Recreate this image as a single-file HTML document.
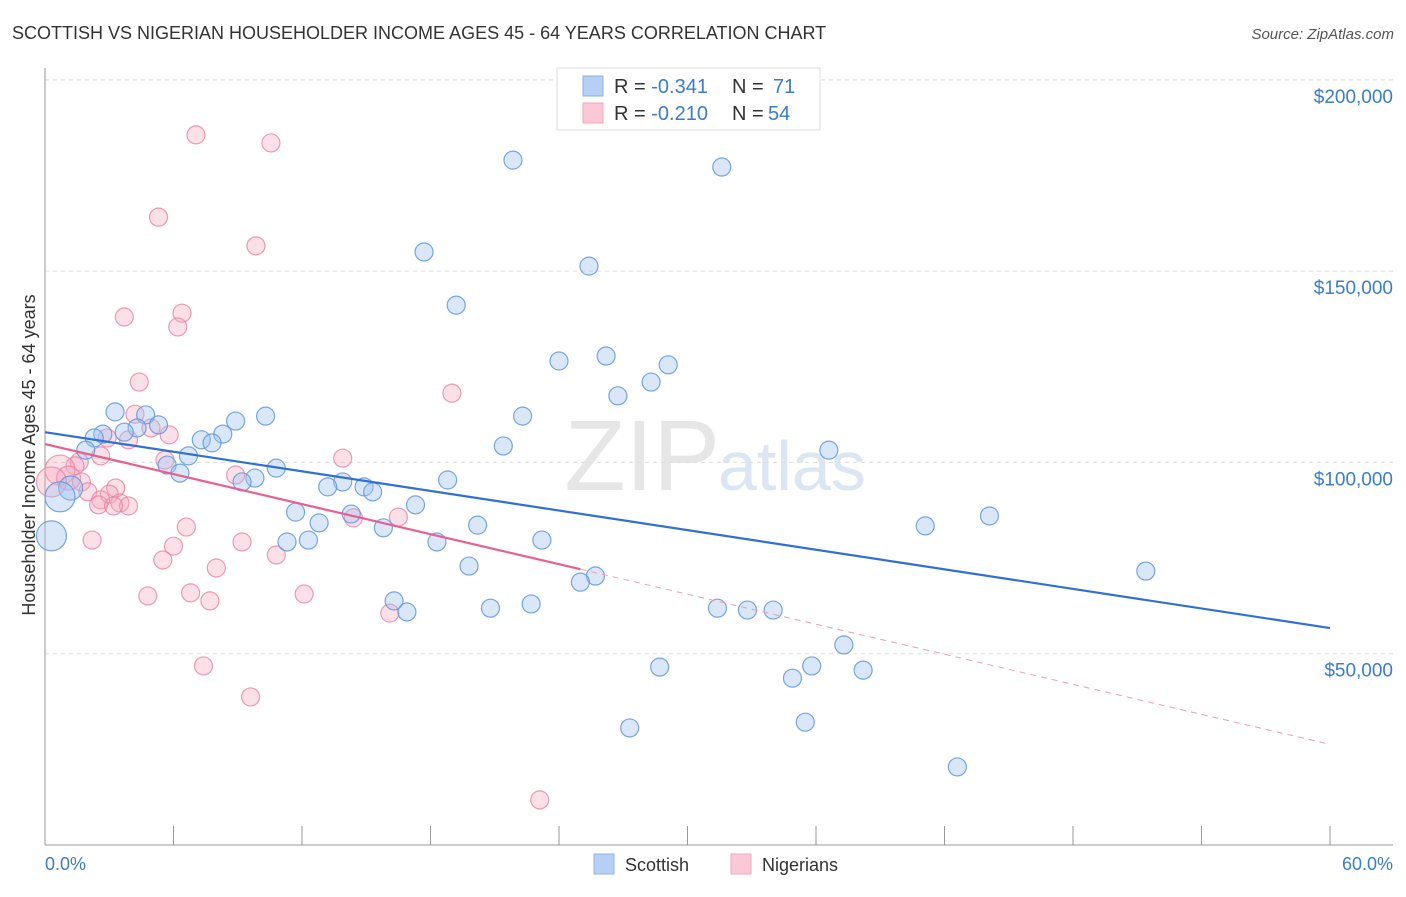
<!DOCTYPE html>
<html><head><meta charset="utf-8"><style>
body{margin:0;background:#fff;font-family:"Liberation Sans",sans-serif;}
svg text{font-family:"Liberation Sans",sans-serif;}
</style></head><body>
<svg id="chart" width="1406" height="892">
<text x="12" y="39" font-size="18" fill="#333">SCOTTISH VS NIGERIAN HOUSEHOLDER INCOME AGES 45 - 64 YEARS CORRELATION CHART</text>
<text x="1394" y="39" font-size="15" fill="#555" font-style="italic" text-anchor="end">Source: ZipAtlas.com</text>
<text x="720" y="490" font-size="100" fill="#e6e6e6" text-anchor="end" font-family="Liberation Serif">ZIP</text>
<text x="718" y="490" font-size="70" fill="#dbe6f4">atlas</text>
<g id="grid"></g><g id="axes"></g><g id="pts"></g><g id="lines"></g>
<text x="35" y="455" font-size="18" fill="#333" text-anchor="middle" transform="rotate(-90 35 455)">Householder Income Ages 45 - 64 years</text>
<text x="45" y="870" font-size="18" fill="#3a7bd5">0.0%</text>
<text x="1393" y="870" font-size="18" fill="#3a7bd5" text-anchor="end">60.0%</text>
<g>
<rect x="557" y="68" width="263" height="62" fill="#fff" stroke="#ddd"/>
<rect x="583" y="76" width="20" height="20" fill="#b5cff5" stroke="#8fb2e8"/>
<rect x="583" y="103" width="20" height="20" fill="#fbc8d7" stroke="#f0a6be"/>
<text x="614" y="93" font-size="20" fill="#333">R = <tspan fill="#3a7bd5">-0.341</tspan><tspan x="732">N = </tspan><tspan x="773" fill="#3a7bd5">71</tspan></text>
<text x="614" y="120" font-size="20" fill="#333">R = <tspan fill="#3a7bd5">-0.210</tspan><tspan x="732">N = </tspan><tspan x="768" fill="#3a7bd5">54</tspan></text>
</g>
<g><rect x="594" y="854" width="20" height="20" fill="#b5cff5" stroke="#8fb2e8"/><text x="625" y="871" font-size="18" fill="#333">Scottish</text></g>
<g><rect x="731" y="854" width="20" height="20" fill="#fbc8d7" stroke="#f0a6be"/><text x="762" y="871" font-size="18" fill="#333">Nigerians</text></g>
</svg>
<script>
const yTicks=[50000,100000,150000,200000];
const yTickLabels=["$50,000","$100,000","$150,000","$200,000"];
const scottishX=[21.85,31.6,17.7,25.4,19.2,24.0,26.2,29.1,28.3,26.75,3.27,4.7,10.3,22.3,5.3,8.9,4.3,3.7,2.7,2.3,8.3,7.3,7.8,21.4,36.6,6.7,1.9,5.7,10.8,6.3,9.8,18.8,9.2,13.9,13.2,14.9,15.3,1.2,0.7,17.3,11.7,14.3,12.8,15.8,20.2,41.1,44.1,0.3,11.3,12.3,18.3,23.2,19.8,51.4,25.7,25.0,16.3,16.9,20.8,22.7,31.4,32.8,34.0,37.3,28.7,35.8,38.2,34.9,35.5,27.3,42.6];
const scottishY=[179.0,177.2,155.0,151.3,141.1,126.5,127.8,125.5,121.0,117.4,113.2,112.4,112.1,112.1,109.8,110.8,109.0,107.9,107.4,106.4,107.4,105.9,105.1,104.3,103.2,101.7,103.2,99.3,98.5,97.2,95.9,95.4,94.9,94.9,93.6,93.6,92.3,93.3,91.0,88.9,87.0,86.5,84.2,82.9,83.6,83.4,86.0,80.8,79.2,79.7,79.2,79.7,72.9,71.6,70.3,68.7,63.8,60.9,61.9,63.0,61.9,61.4,61.4,52.3,46.5,46.8,45.7,43.6,32.1,30.6,20.4];
const nigerianX=[7.05,10.55,5.3,9.85,3.7,6.4,6.2,4.4,19.0,4.2,4.95,5.8,2.9,3.9,13.9,5.6,2.6,1.6,1.4,8.9,0.7,1.1,0.3,1.7,3.3,2.0,3.0,2.6,3.5,2.5,3.9,3.2,16.5,14.4,6.6,2.2,9.2,6.0,10.8,5.5,8.0,6.8,12.1,4.8,7.7,16.1,7.4,9.6,23.1];
const nigerianY=[185.6,183.5,164.1,156.6,138.0,139.0,135.4,121.0,118.1,112.6,109.0,107.2,106.4,105.9,101.1,100.6,101.7,100.1,99.1,96.7,98.0,95.9,94.9,94.9,93.3,92.3,91.7,90.2,89.4,88.9,88.6,88.6,85.7,85.5,83.1,79.7,79.2,78.1,75.8,74.5,72.4,65.9,65.6,65.1,63.8,60.6,46.8,38.7,11.8];
const scottishTrend=[107.9,56.7];
const nigerianTrend=[104.8,26.3];
const nigerianSolidEnd=25;
const NS="http://www.w3.org/2000/svg";
const sx=p=>45+p*1285/60, sy=k=>845-k*3.826;
function mk(t,a,p){const e=document.createElementNS(NS,t);for(const k in a)e.setAttribute(k,a[k]);p.appendChild(e);return e;}
const grid=document.getElementById('grid'),axes=document.getElementById('axes'),pts=document.getElementById('pts'),lines=document.getElementById('lines');
const topLine=mk('line',{x1:45,x2:1393,y1:80,y2:80,stroke:'#ddd','stroke-dasharray':'4,4'},grid);


yTicks.forEach((v,i)=>{
 const g=mk('line',{x1:45,x2:1393,y1:sy(v/1000),y2:sy(v/1000),stroke:'#ddd','stroke-dasharray':'4,4'},grid);
 
 
 const t=mk('text',{x:1393,y:sy(v/1000)+23,'font-size':19,fill:'#3a7bd5','text-anchor':'end'},grid);
 t.textContent=yTickLabels[i];
 
 
});
const ya=mk('line',{x1:45,x2:45,y1:68,y2:845,stroke:'#999'},axes);


const xa=mk('line',{x1:45,x2:1393,y1:845,y2:845,stroke:'#999'},axes);


for(let p=0;p<=60;p+=6){const t=mk('line',{x1:sx(p),x2:sx(p),y1:826,y2:845,stroke:'#999'},axes);
 
 }
function dots(X,Y,fill,stroke,name){X.forEach((x,i)=>{
 const r=(x<1.3)?(x<0.8?15:12):9;
 const c=mk('circle',{cx:sx(x),cy:sy(Y[i]),r:r,fill:fill,stroke:stroke,'stroke-width':1.2},pts);
 
 });}
dots(nigerianX,nigerianY,'rgba(245,165,190,0.35)','rgba(232,130,165,0.8)','nigerian-point');
dots(scottishX,scottishY,'rgba(160,195,240,0.4)','rgba(95,150,225,0.85)','scottish-point');
const bl=mk('line',{x1:sx(0),y1:sy(scottishTrend[0]),x2:sx(60),y2:sy(scottishTrend[1]),stroke:'#2f6fd6','stroke-width':2.2},lines);


const pm=nigerianTrend[0]+(nigerianTrend[1]-nigerianTrend[0])*nigerianSolidEnd/60;
const pl=mk('line',{x1:sx(0),y1:sy(nigerianTrend[0]),x2:sx(nigerianSolidEnd),y2:sy(pm),stroke:'#e8608f','stroke-width':2.2},lines);


const pd=mk('line',{x1:sx(nigerianSolidEnd),y1:sy(pm),x2:sx(60),y2:sy(nigerianTrend[1]),stroke:'#e8a0b8','stroke-width':1,'stroke-dasharray':'6,5'},lines);


</script>
</body></html>
